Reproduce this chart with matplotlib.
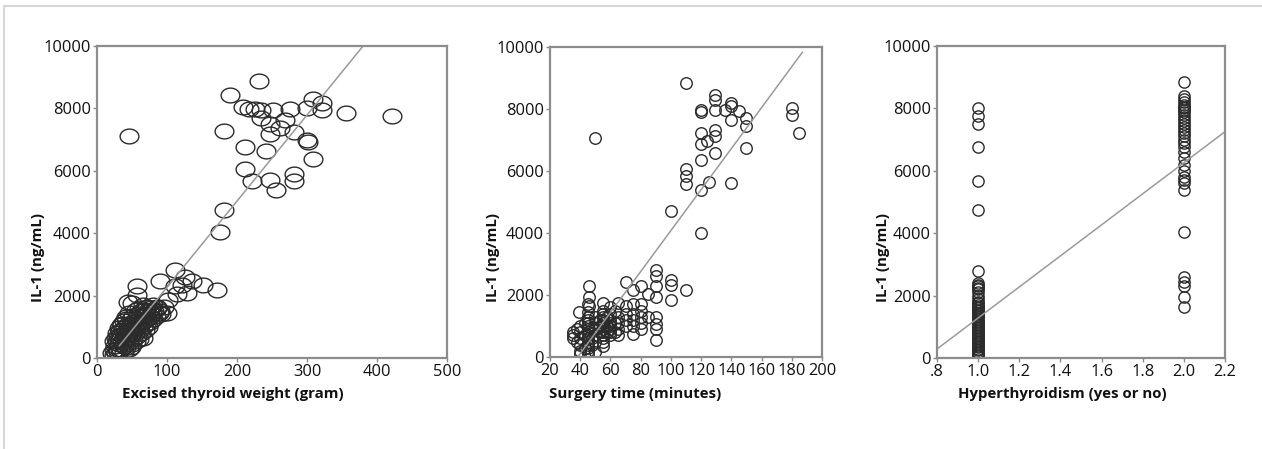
import matplotlib
matplotlib.use("Agg")
import matplotlib.pyplot as plt
import numpy as np
from matplotlib.path import Path
from matplotlib.lines import Line2D

# ---------------- data ----------------
y_ticks = [0, 2000, 4000, 6000, 8000, 10000]
y_tick_labels = ["0", "2000", "4000", "6000", "8000", "10000"]

# Panel 1: excised thyroid weight (gram) vs IL-1
weight_x = [45, 232, 190, 209, 217, 225, 234, 251, 276, 300, 309, 321, 321, 356, 421,
            234, 247, 269, 262, 247, 281, 182, 300, 302, 212, 241, 309, 212, 221, 247,
            281, 281, 256, 181, 176, 112, 125, 136, 90, 57, 112, 121, 152, 172, 114,
            129, 102, 57, 44, 86, 79, 100,
            22, 24, 25, 26, 27, 28, 28, 29, 30, 30, 31, 32, 33, 33, 34, 35, 35, 36, 37,
            38, 38, 39, 40, 40, 41, 42, 42, 43, 44, 44, 45, 45, 46, 47, 48, 48, 49, 50,
            50, 51, 52, 52, 53, 54, 55, 55, 56, 57, 57, 58, 59, 60, 60, 61, 62, 63, 63,
            64, 65, 65, 66, 67, 68, 68, 70, 70, 71, 72, 73, 74, 75, 76, 77, 78, 80, 80,
            82, 84, 85, 88, 90, 92, 95, 27, 33, 38, 45, 50, 55, 60, 65, 48, 24, 36, 41]
weight_y = [7100, 8870, 8440, 8045, 7990, 7970, 7960, 7960, 7990, 8020, 8310, 8170, 7940,
            7850, 7745, 7700, 7510, 7620, 7370, 7190, 7240, 7260, 6980, 6920, 6760, 6620,
            6390, 6070, 5670, 5690, 5890, 5660, 5400, 4730, 4040, 2830, 2600, 2470, 2470,
            2300, 2300, 2330, 2330, 2170, 2060, 2080, 1870, 2010, 1790, 1635, 1475, 1440,
            150, 250, 100, 400, 650, 800, 550, 300, 200, 700, 950, 450, 600, 850, 1050,
            300, 750, 500, 900, 1200, 650, 400, 800, 1000, 600, 1300, 350, 750, 950, 1100,
            500, 1450, 850, 650, 1050, 1250, 750, 900, 1750, 1150, 600, 1350, 1000, 800,
            1250, 1550, 950, 1100, 700, 1400, 1200, 900, 1600, 1050, 1300, 800, 1500,
            1150, 1000, 1700, 1350, 1200, 900, 1550, 1100, 1400, 1650, 1250, 1000, 1500,
            1300, 1150, 1600, 1400, 1250, 1700, 1500, 1350, 1600, 1450, 1500, 1400, 1650,
            150, 250, 200, 300, 450, 550, 600, 650, 350, 550, 1100, 1250]
weight_fit_x = [32, 420]
weight_fit_coef = [27.6, -491]

# Panel 2: surgery time (minutes) vs IL-1
time_x = [50, 110, 120, 120, 129, 129, 129, 136, 140, 140, 140, 145, 150, 150, 180, 180,
          185, 120, 129, 129, 124, 120, 129, 150, 120, 110, 110, 110, 125, 120, 140, 100,
          120, 110, 90, 90, 90, 90, 100, 100, 100, 70, 80, 75, 85, 46, 46, 46, 39, 55,
          90, 90, 90, 90,
          35, 35, 35, 38, 38,
          40, 40, 40, 40, 40, 40,
          43, 43, 43,
          45, 45, 45, 45, 45, 45, 45, 45, 45, 45, 45, 45, 45, 45, 45,
          48, 48, 48,
          50, 50, 50, 50, 50, 50,
          53, 53, 53,
          55, 55, 55, 55, 55, 55, 55, 55, 55, 55, 55, 55,
          58, 58, 58,
          60, 60, 60, 60, 60, 60, 60, 60,
          63, 63, 63,
          65, 65, 65, 65, 65,
          70, 70, 70, 70,
          75, 75, 75, 75, 75,
          80, 80, 80, 80, 80, 85]
time_y = [7080, 8840, 7960, 7900, 8440, 8280, 7960, 7960, 8190, 8090, 7660, 7920, 7720,
          7440, 8030, 7800, 7230, 7230, 7330, 7120, 6960, 6880, 6580, 6750, 6370, 6080,
          5830, 5590, 5650, 5380, 5620, 4720, 4000, 2150, 2820, 2600, 2280, 1935, 2470,
          2310, 1830, 2420, 2280, 2150, 2040, 2280, 1935, 1630, 1450, 1740,
          1290, 1075, 910, 540,
          700, 800, 600, 900, 500,
          1000, 800, 600, 400, 200, 100,
          1100, 700, 300,
          1450, 1300, 1200, 1100, 1000, 900, 800, 700, 600, 500, 400, 300, 200, 100, 1700,
          900, 600, 400,
          1300, 1100, 900, 700, 500, 150,
          1200, 1000, 800,
          1500, 1400, 1300, 1200, 1100, 1000, 900, 800, 700, 600, 500, 350,
          1300, 1000, 800,
          1600, 1400, 1200, 1100, 1000, 900, 800, 700,
          1500, 1100, 800,
          1750, 1300, 1100, 900, 700,
          1650, 1400, 1200, 1000,
          1700, 1400, 1200, 1000, 750,
          1700, 1500, 1300, 1100, 900, 1300]
time_fit_x = [35, 187]
time_fit_coef = [66.1, -2532]

# Panel 3: hyperthyroidism (1 = no, 2 = yes) vs IL-1
hyper_no_y = [8000, 7750, 7500, 6750, 5680, 4750, 2800, 2400, 2350, 2300, 2250, 2200,
              2100, 2000, 1900, 1800, 1750, 1700, 1650, 1600, 1550, 1500, 1450, 1400,
              1350, 1300, 1250, 1200, 1150, 1100, 1050, 1000, 950, 900, 850, 800, 750,
              700, 650, 600, 550, 500, 450, 400, 350, 300, 250, 200, 150, 100, 50]
hyper_yes_y = [8850, 8400, 8300, 8200, 8100, 8050, 8000, 7950, 7900, 7800, 7700, 7600,
               7500, 7400, 7300, 7200, 7100, 7000, 6900, 6750, 6600, 6400, 6200, 6000,
               5800, 5700, 5600, 5400, 4030, 2600, 2450, 2300, 1950, 1650]
hyper_groups = [1.0, 2.0]
hyper_fit_x = [0.8, 2.2]
hyper_fit_coef = [4975, -3692]

# ---------------- figure ----------------
W, H = 1262, 449
fig = plt.figure(figsize=(W / 100, H / 100), dpi=100)
plt.rcParams['font.family'] = ['Open Sans', 'DejaVu Sans']

def fx(px):
    return px / W

def fy(py):
    return 1 - py / H

spine_col = "#8c8c8c"
edge_col = "#2b2b2b"
line_col = "#9a9a9a"

theta = np.linspace(0, 2 * np.pi, 60)
ellipse = Path(np.column_stack([1.27 * np.cos(theta), np.sin(theta)]))

def setup(ax, xlim, xticks, xticklabels):
    ax.set_xlim(*xlim)
    ax.set_ylim(0, 10000)
    ax.set_xticks(xticks)
    ax.set_xticklabels(xticklabels)
    ax.set_yticks(y_ticks)
    ax.set_yticklabels(y_tick_labels)
    for s in ax.spines.values():
        s.set_color(spine_col)
        s.set_linewidth(1.6)
    ax.tick_params(axis='both', direction='out', length=3, width=1, color=spine_col,
                   labelsize=11.8, labelcolor="#111111", pad=1.5)

# axes boxes: (left, top, right, bottom) in pixels
boxes = [(97, 46, 447, 358), (550, 47, 822, 357), (937, 46, 1225, 358)]
axs = []
for l, t, r, b in boxes:
    axs.append(fig.add_axes([fx(l), fy(b), (r - l) / W, (b - t) / H]))

mk = dict(linestyle='none', markerfacecolor='none', markeredgecolor=edge_col,
          markeredgewidth=1.0)

# Panel 1
ax = axs[0]
ax.plot(weight_x, weight_y, marker=ellipse, markersize=13.5, **mk)
fx1 = np.array(weight_fit_x, dtype=float)
ax.plot(fx1, np.polyval(weight_fit_coef, fx1), color=line_col, lw=1.1)
setup(ax, (0, 500), [0, 100, 200, 300, 400, 500], ["0", "100", "200", "300", "400", "500"])

# Panel 2
ax = axs[1]
ax.plot(time_x, time_y, marker='o', markersize=8.3, **mk)
fx2 = np.array(time_fit_x, dtype=float)
ax.plot(fx2, np.polyval(time_fit_coef, fx2), color=line_col, lw=1.1)
setup(ax, (20, 200), list(range(20, 201, 20)), [str(v) for v in range(20, 201, 20)])

# Panel 3
ax = axs[2]
ax.plot([hyper_groups[0]] * len(hyper_no_y), hyper_no_y, marker='o', markersize=8.1, **mk)
ax.plot([hyper_groups[1]] * len(hyper_yes_y), hyper_yes_y, marker='o', markersize=8.1, **mk)
fx3 = np.array(hyper_fit_x, dtype=float)
ax.plot(fx3, np.polyval(hyper_fit_coef, fx3), color=line_col, lw=1.1)
setup(ax, (0.8, 2.2), [0.8, 1.0, 1.2, 1.4, 1.6, 1.8, 2.0, 2.2],
      [".8", "1.0", "1.2", "1.4", "1.6", "1.8", "2.0", "2.2"])

# axis labels
xlabels = [("Excised thyroid weight (gram)", 233), ("Surgery time (minutes)", 635),
           ("Hyperthyroidism (yes or no)", 1062)]
for txt, cx in xlabels:
    fig.text(fx(cx), fy(394), txt, ha='center', va='center', fontsize=10.8,
             fontweight='bold', color="#111111")
for cx in [38, 493, 883]:
    fig.text(fx(cx), fy(257), "IL-1 (ng/mL)", ha='center', va='center', rotation=90,
             fontsize=10.8, fontweight='bold', color="#111111")

# outer light frame (top and left)
fig.add_artist(Line2D([fx(4), 1], [fy(6), fy(6)], color="#d6d6d6", lw=1.5))
fig.add_artist(Line2D([fx(4), fx(4)], [fy(6), 0], color="#d6d6d6", lw=1.5))

fig.savefig("out.png", dpi=100, facecolor="white")
